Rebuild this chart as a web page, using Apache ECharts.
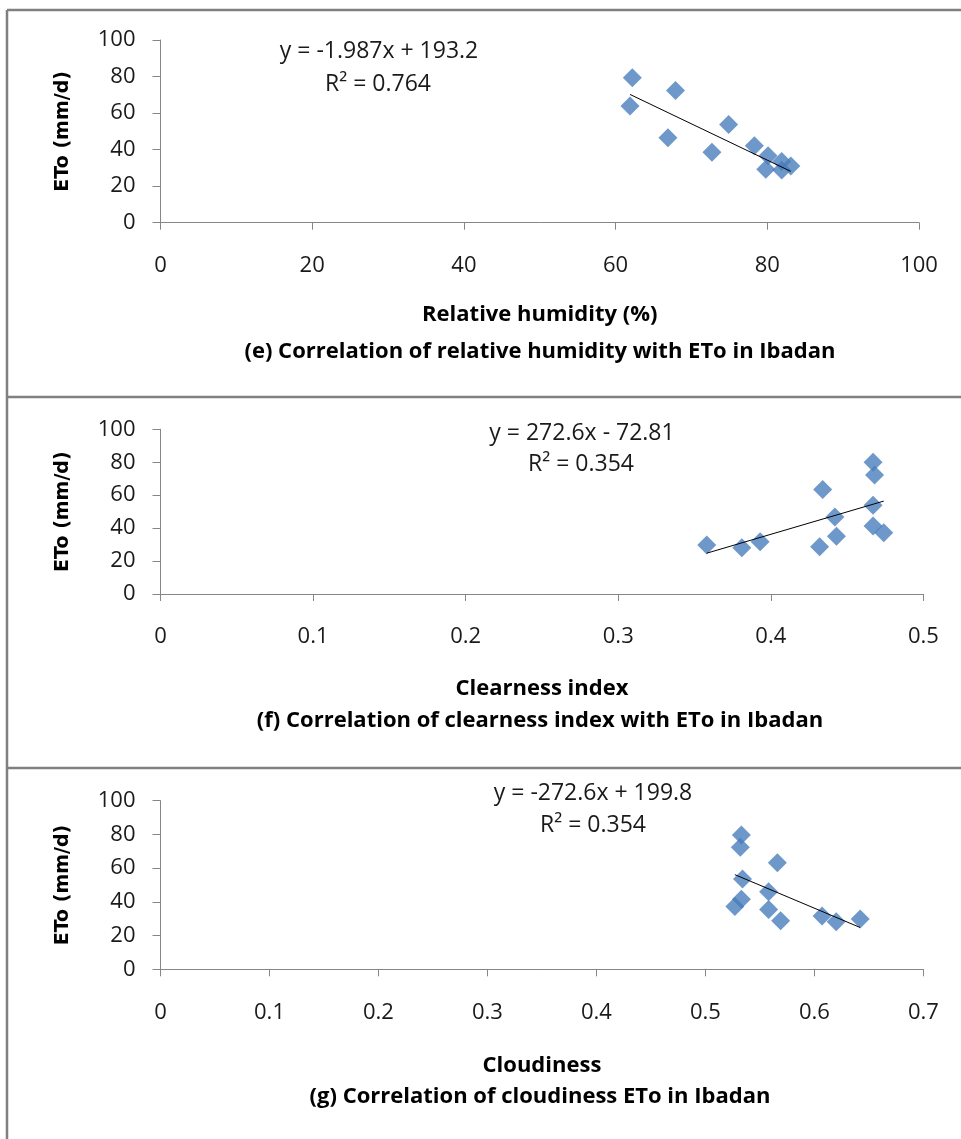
<!DOCTYPE html>
<html lang="en">
<head>
<meta charset="UTF-8">
<title>ETo correlations - Ibadan</title>
<script src="https://cdn.jsdelivr.net/npm/echarts@6/dist/echarts.min.js"></script>
<style>
  html, body { margin: 0; padding: 0; background: #fff; }
  #main { width: 961px; height: 1139px; }
</style>
</head>
<body>
<div id="main"></div>
<script>
// (e) relative humidity vs ETo
var rhE  = [62.2, 67.9, 61.9, 74.9, 66.9, 78.3, 72.7, 80.1, 81.9, 83.1, 79.8, 81.9];
var etoE = [79.4, 72.3, 63.9, 53.8, 46.5, 42.1, 38.6, 36.6, 33.5, 31.0, 29.2, 28.9];
// (f) clearness index vs ETo
var kF   = [0.467, 0.468, 0.434, 0.467, 0.442, 0.467, 0.474, 0.443, 0.393, 0.358, 0.432, 0.381];
var etoF = [80.0, 72.3, 63.5, 53.9, 46.7, 41.3, 37.2, 35.0, 31.8, 29.8, 28.7, 28.1];
// (g) cloudiness vs ETo
var cG   = [0.533, 0.532, 0.566, 0.534, 0.558, 0.533, 0.527, 0.558, 0.569, 0.607, 0.620, 0.642];
var etoG = [79.7, 72.4, 63.2, 53.5, 46.0, 41.5, 37.2, 35.5, 28.8, 31.6, 28.2, 29.8];

// trendline coefficients (slope, intercept) as printed on the chart
var fitE = [-1.987, 193.2];
var fitF = [272.6, -72.81];
var fitG = [-272.6, 199.8];

var yTicks = [0, 20, 40, 60, 80, 100];
var xTicksE = [0, 20, 40, 60, 80, 100];
var xTicksF = [0, 0.1, 0.2, 0.3, 0.4, 0.5];
var xTicksG = [0, 0.1, 0.2, 0.3, 0.4, 0.5, 0.6, 0.7];

var panels = [
  { xs: rhE, ys: etoE, fit: fitE, ticks: xTicksE, xName: 'Relative humidity (%)',
    eq: 'y = -1.987x + 193.2', r2: 'R² = 0.764',
    caption: '(e) Correlation of relative humidity with ETo in Ibadan' },
  { xs: kF, ys: etoF, fit: fitF, ticks: xTicksF, xName: 'Clearness index',
    eq: 'y = 272.6x - 72.81', r2: 'R² = 0.354',
    caption: '(f) Correlation of clearness index with ETo in Ibadan' },
  { xs: cG, ys: etoG, fit: fitG, ticks: xTicksG, xName: 'Cloudiness',
    eq: 'y = -272.6x + 199.8', r2: 'R² = 0.354',
    caption: '(g) Correlation of cloudiness ETo in Ibadan' }
];

// layout of each panel (px)
var boxes = [
  { top: 40,    height: 182.7, right: 42,   nameGap: 81, eqX: 379, eqY: 51,  r2X: 378, r2Y: 84,  capY: 352 },
  { top: 429.3, height: 164.7, right: 37.6, nameGap: 84, eqX: 582, eqY: 433, r2X: 581, r2Y: 464, capY: 721 },
  { top: 800.7, height: 168.6, right: 37.6, nameGap: 85, eqX: 593, eqY: 793, r2X: 593, r2Y: 825, capY: 1097 }
];

var axisGray = '#868686';
var txtFont = 'Open Sans';

var grid = [], xAxis = [], yAxis = [], series = [], graphic = [];

panels.forEach(function (p, i) {
  var b = boxes[i];
  grid.push({ left: 160.5, right: b.right, top: b.top, height: b.height });

  var tmin = p.ticks[0], tmax = p.ticks[p.ticks.length - 1];
  xAxis.push({
    gridIndex: i, type: 'value', min: tmin, max: tmax,
    interval: p.ticks[1] - p.ticks[0],
    name: p.xName, nameLocation: 'middle', nameGap: b.nameGap,
    nameTextStyle: { fontFamily: txtFont, fontWeight: 'bold', fontSize: 22, color: '#000' },
    axisLine: { lineStyle: { color: axisGray, width: 1 } },
    axisTick: { show: true, length: 7, lineStyle: { color: axisGray } },
    splitLine: { show: false },
    axisLabel: { margin: 32, fontFamily: txtFont, fontSize: 22, color: '#1a1a1a',
      formatter: function (v) { return String(Math.round(v * 10) / 10); } }
  });
  yAxis.push({
    gridIndex: i, type: 'value', min: 0, max: 100, interval: 20,
    name: 'ETo (mm/d)', nameLocation: 'middle', nameRotate: 90, nameGap: 88,
    nameTextStyle: { fontFamily: 'DejaVu Sans', fontWeight: 'bold', fontSize: 19, color: '#000' },
    axisLine: { show: true, lineStyle: { color: axisGray, width: 1 } },
    axisTick: { show: true, length: 8, lineStyle: { color: axisGray } },
    splitLine: { show: false },
    axisLabel: { margin: 25, fontFamily: txtFont, fontSize: 22, color: '#1a1a1a' }
  });

  var pts = p.xs.map(function (x, k) { return [x, p.ys[k]]; });
  series.push({
    type: 'scatter', xAxisIndex: i, yAxisIndex: i, data: pts,
    symbol: 'diamond', symbolSize: 19,
    itemStyle: { color: '#4A7EBB' }, z: 3
  });

  // linear trendline from the printed equation, over the data range
  var x0 = Math.min.apply(null, p.xs), x1 = Math.max.apply(null, p.xs);
  series.push({
    type: 'line', xAxisIndex: i, yAxisIndex: i, symbol: 'none', silent: true,
    data: [[x0, p.fit[0] * x0 + p.fit[1]], [x1, p.fit[0] * x1 + p.fit[1]]],
    lineStyle: { color: '#000', width: 1 }, z: 4
  });

  graphic.push(
    { type: 'text', x: b.eqX, y: b.eqY, style: { text: p.eq, align: 'center', verticalAlign: 'middle',
      font: '23px "' + txtFont + '"', fill: '#1a1a1a' } },
    { type: 'text', x: b.r2X, y: b.r2Y, style: { text: p.r2, align: 'center', verticalAlign: 'middle',
      font: '23px "' + txtFont + '"', fill: '#1a1a1a' } },
    { type: 'text', x: 540, y: b.capY, style: { text: p.caption, align: 'center', verticalAlign: 'middle',
      font: 'bold 22px "' + txtFont + '"', fill: '#000' } }
  );
});

// panel frame lines
var frame = { stroke: '#808080', lineWidth: 2.5 };
graphic.push(
  { type: 'line', shape: { x1: 7, y1: 10, x2: 961, y2: 10 }, style: frame },
  { type: 'line', shape: { x1: 7, y1: 10, x2: 7, y2: 1139 }, style: frame },
  { type: 'line', shape: { x1: 7, y1: 397, x2: 961, y2: 397 }, style: frame },
  { type: 'line', shape: { x1: 7, y1: 768, x2: 961, y2: 768 }, style: frame }
);

var myChart = echarts.init(document.getElementById('main'));
myChart.setOption({
  animation: false,
  grid: grid,
  xAxis: xAxis,
  yAxis: yAxis,
  series: series,
  graphic: graphic
});
</script>
</body>
</html>
